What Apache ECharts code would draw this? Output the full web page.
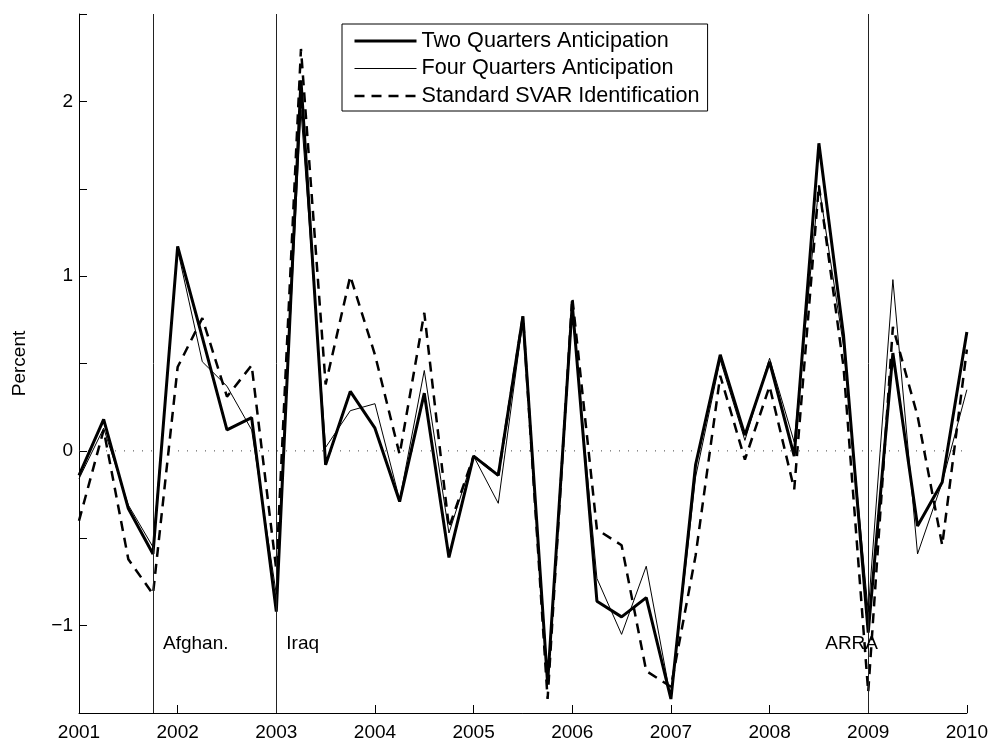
<!DOCTYPE html>
<html>
<head>
<meta charset="utf-8">
<title>Fiscal shocks</title>
<script src="https://cdn.jsdelivr.net/npm/echarts@6/dist/echarts.min.js"></script>
<style>
  html, body { margin: 0; padding: 0; background: #fff; }
  #chart { width: 991px; height: 742px; }
</style>
</head>
<body>
<div id="chart"></div>
<script>
// Quarterly observations, 2001Q1 through 2010Q1
const startYear = 2001;
const quarterCount = 37;
const dates = Array.from({ length: quarterCount }, (_, i) => startYear + i * 0.25);

const seriesNames = ['Two Quarters Anticipation', 'Four Quarters Anticipation', 'Standard SVAR Identification'];

const twoQuarters = [
  -0.14, 0.18, -0.33, -0.59,
  1.17, 0.65, 0.12, 0.19,
  -0.92, 2.12, -0.08, 0.34,
  0.13, -0.29, 0.33, -0.61,
  -0.03, -0.14, 0.77, -1.33,
  0.84, -0.86, -0.95, -0.84,
  -1.42, -0.08, 0.55, 0.09,
  0.51, -0.03, 1.76, 0.66,
  -1.04, 0.56, -0.43, -0.18,
  0.68
];

const fourQuarters = [
  -0.16, 0.13, -0.31, -0.55,
  1.15, 0.51, 0.37, 0.12,
  -0.82, 1.95, 0.02, 0.23,
  0.27, -0.28, 0.46, -0.47,
  -0.03, -0.30, 0.75, -1.30,
  0.80, -0.73, -1.05, -0.66,
  -1.42, -0.15, 0.52, 0.06,
  0.53, 0.05, 1.52, 0.60,
  -0.92, 0.98, -0.59, -0.18,
  0.35
];

const standardSvar = [
  -0.40, 0.12, -0.62, -0.82,
  0.48, 0.76, 0.31, 0.49,
  -0.68, 2.30, 0.38, 1.00,
  0.55, -0.02, 0.79, -0.44,
  -0.03, -0.14, 0.77, -1.42,
  0.88, -0.45, -0.54, -1.26,
  -1.35, -0.60, 0.43, -0.05,
  0.37, -0.22, 1.52, 0.48,
  -1.38, 0.71, 0.20, -0.54,
  0.58
];

// Policy events marked with vertical lines
const eventNames = ['Afghan.', 'Iraq', 'ARRA'];
const eventDates = [2001.75, 2003, 2009];
const eventLabelLevel = -1.105;

const yearTicks = [2001, 2002, 2003, 2004, 2005, 2006, 2007, 2008, 2009, 2010];

const FONT = '"Liberation Sans", Arial, Helvetica, sans-serif';

function pairs(values) {
  return values.map((v, i) => [dates[i], v]);
}

const labelShift = { 'Afghan.': 10, 'Iraq': 10, 'ARRA': -43 };
const lineWidths = [3, 1, 2.5];
const lineTypes = ['solid', 'solid', [10, 7]];

const chart = echarts.init(document.getElementById('chart'), null, { renderer: 'canvas' });

chart.setOption({
  backgroundColor: '#fff',
  animation: false,
  grid: { left: 79, right: 22, top: 14, bottom: 27, containLabel: false },
  legend: {
    data: seriesNames.map((n, i) => ({
      name: n,
      lineStyle: { width: lineWidths[i], type: lineTypes[i], color: '#000' }
    })),
    orient: 'vertical',
    left: 342,
    top: 24,
    padding: [6, 8, 4, 11],
    itemWidth: 62,
    itemHeight: 14,
    itemGap: 5.5,
    borderColor: '#000',
    borderWidth: 1,
    backgroundColor: '#fff',
    selectedMode: false,
    itemStyle: { opacity: 0 },
    textStyle: { fontFamily: FONT, fontSize: 21.6, color: '#000', lineHeight: 21 }
  },
  xAxis: {
    type: 'value',
    min: yearTicks[0],
    max: yearTicks[yearTicks.length - 1],
    interval: 1,
    axisLine: { show: true, onZero: false, lineStyle: { color: '#000', width: 1 } },
    axisTick: { show: true, inside: true, length: 8, lineStyle: { color: '#000' } },
    axisLabel: {
      fontFamily: FONT, fontSize: 19, color: '#000', margin: 10,
      formatter: v => String(v)
    },
    splitLine: { show: false }
  },
  yAxis: {
    type: 'value',
    min: -1.5,
    max: 2.5,
    interval: 0.5,
    name: 'Percent',
    nameLocation: 'middle',
    nameGap: 50,
    nameTextStyle: { fontFamily: FONT, fontSize: 19, color: '#000' },
    axisLine: { show: true, onZero: false, lineStyle: { color: '#000', width: 1 } },
    axisTick: { show: true, inside: true, length: 8, lineStyle: { color: '#000' } },
    axisLabel: {
      fontFamily: FONT, fontSize: 19, color: '#000', margin: 6,
      formatter: v => Number.isInteger(v) ? String(v).replace('-', '\u2212') : ''
    },
    splitLine: { show: false }
  },
  series: [
    {
      // dotted zero reference line
      name: 'zero',
      type: 'line',
      data: [[yearTicks[0], 0], [yearTicks[yearTicks.length - 1], 0]],
      symbol: 'none',
      silent: true,
      lineStyle: { color: '#444', width: 1, type: [1, 8] },
      z: 1
    },
    {
      name: 'events',
      type: 'line',
      data: [],
      silent: true,
      markLine: {
        silent: true,
        symbol: 'none',
        label: { show: false },
        animation: false,
        data: eventDates.map(d => ({ xAxis: d, lineStyle: { color: '#222', width: 1, type: 'solid' } }))
      },
      z: 1
    },
    {
      name: seriesNames[0],
      type: 'line',
      data: pairs(twoQuarters),
      symbol: 'none',
      lineStyle: { color: '#000', width: lineWidths[0], type: lineTypes[0] },
      itemStyle: { color: '#000' },
      z: 4
    },
    {
      name: seriesNames[1],
      type: 'line',
      data: pairs(fourQuarters),
      symbol: 'none',
      lineStyle: { color: '#000', width: lineWidths[1], type: lineTypes[1] },
      itemStyle: { color: '#000' },
      z: 5
    },
    {
      name: seriesNames[2],
      type: 'line',
      data: pairs(standardSvar),
      symbol: 'none',
      lineStyle: { color: '#000', width: lineWidths[2], type: lineTypes[2] },
      itemStyle: { color: '#000' },
      z: 3
    },
    {
      name: 'event labels',
      type: 'scatter',
      symbolSize: 0,
      silent: true,
      itemStyle: { opacity: 1 },
      data: eventNames.map((n, i) => ({
        name: n,
        value: [eventDates[i], eventLabelLevel],
        label: { offset: [labelShift[n], 0] }
      })),
      label: {
        show: true,
        position: 'right',
        distance: 0,
        formatter: p => p.name,
        fontFamily: FONT,
        fontSize: 19,
        color: '#000',
        opacity: 1
      },
      z: 6
    }
  ]
});
</script>
</body>
</html>
